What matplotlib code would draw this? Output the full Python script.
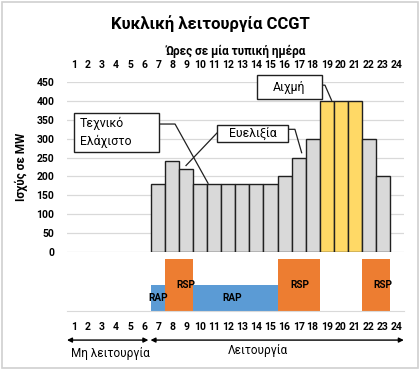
import matplotlib
matplotlib.use("Agg")
import matplotlib.pyplot as plt
from matplotlib.patches import Rectangle

plt.rcParams['font.family'] = ['Roboto', 'DejaVu Sans']

# --- data ---
hours = list(range(1, 25))
power_mw = [0, 0, 0, 0, 0, 0, 180, 240, 220, 180, 180, 180, 180, 180, 180,
            200, 250, 300, 400, 400, 400, 300, 200, 0]
peak_hours = [19, 20, 21]
rap = [0, 0, 0, 0, 0, 0, 1, 0, 0, 1, 1, 1, 1, 1, 1, 0, 0, 0, 0, 0, 0, 0, 0, 0]
rsp = [0, 0, 0, 0, 0, 0, 0, 2, 2, 0, 0, 0, 0, 0, 0, 2, 2, 2, 0, 0, 0, 2, 2, 0]
rap_label_hours = [7, 12.25]
rsp_label_hours = [9, 17.1, 23]
yticks = [0, 50, 100, 150, 200, 250, 300, 350, 400, 450]

GRAY = '#D9D9D9'
YELLOW = '#FFD966'
ORANGE = '#ED7D31'
BLUE = '#5B9BD5'
EDGE = '#202020'

fig = plt.figure(figsize=(4.2, 3.7), dpi=100)
fig.patches.append(Rectangle((0.005, 0.005), 0.99, 0.99, transform=fig.transFigure,
                             fill=False, edgecolor='#D0D0D0', lw=1.2))

fig.text(0.5, 0.935, 'Κυκλική λειτουργία CCGT', ha='center', va='center',
         fontsize=12, fontweight='bold')

# main power chart
ax = fig.add_axes([0.1595, 0.319, 0.802, 0.459])
for h, v in zip(hours, power_mw):
    if v <= 0:
        continue
    c = YELLOW if h in peak_hours else GRAY
    ax.bar(h, v, width=1.0, color=c, edgecolor=EDGE, linewidth=1.0, zorder=2)

ax.set_xlim(0.5, 24.5)
ax.set_ylim(0, 450)
ax.set_yticks(yticks)
ax.set_yticklabels([str(t) for t in yticks], fontsize=7.5, fontweight='bold')
ax.grid(axis='y', color=GRAY, lw=0.9, zorder=0)
ax.xaxis.tick_top()
ax.set_xticks(hours)
ax.set_xticklabels([str(h) for h in hours], fontsize=7.5, fontweight='bold')
ax.tick_params(length=0)
ax.tick_params(axis='x', pad=9)
ax.tick_params(axis='y', pad=9)
for s in ax.spines.values():
    s.set_visible(False)
ax.set_ylabel('Ισχύς σε MW', fontsize=8.5, fontweight='bold', labelpad=6)
ax.xaxis.set_label_position('top')
ax.set_xlabel('Ώρες σε μία τυπική ημέρα', fontsize=8.5, fontweight='bold', labelpad=3)

# callouts
def callout(x0, y0, x1, y1, text, tx, ty, ha):
    ax.add_patch(Rectangle((x0, y0), x1 - x0, y1 - y0, facecolor='white',
                           edgecolor=EDGE, lw=1.0, zorder=5, clip_on=False))
    ax.text(tx, ty, text, ha=ha, va='center', fontsize=8.8, zorder=6,
            linespacing=1.45)

callout(1.0, 265, 7.05, 368, 'Τεχνικό\nΕλάχιστο', 1.4, 316, 'left')
ax.plot([7.05, 8.2, 10.55], [339, 339, 182], color=EDGE, lw=0.9, zorder=4, clip_on=False)

callout(11.18, 291, 16.24, 336, 'Ευελιξία', 13.71, 313, 'center')
ax.plot([11.18, 8.98], [315, 229], color=EDGE, lw=0.9, zorder=4, clip_on=False)
ax.plot([16.24, 16.74, 17.22], [325, 325, 263], color=EDGE, lw=0.9, zorder=4, clip_on=False)

callout(14.03, 405, 18.66, 468, 'Αιχμή', 16.35, 437, 'center')
ax.plot([18.66, 18.88, 19.35], [442, 442, 402], color=EDGE, lw=0.9, zorder=4, clip_on=False)

# reserve bands
ax2 = fig.add_axes([0.1595, 0.1595, 0.802, 0.143])
ax2.bar(hours, rap, width=1.0, color=BLUE, linewidth=0, zorder=2)
ax2.bar(hours, rsp, width=1.0, color=ORANGE, linewidth=0, zorder=2)
for h in rap_label_hours:
    ax2.text(h, 0.5, 'RAP', ha='center', va='center', fontsize=7.2, fontweight='bold', zorder=3)
for h in rsp_label_hours:
    ax2.text(h, 1.0, 'RSP', ha='center', va='center', fontsize=7.2, fontweight='bold', zorder=3)
ax2.set_xlim(0.5, 24.5)
ax2.set_ylim(0, 2.05)
ax2.set_yticks([])
ax2.set_xticks(hours)
ax2.set_xticklabels([str(h) for h in hours], fontsize=7.5, fontweight='bold')
ax2.tick_params(length=0, pad=8)
for name, s in ax2.spines.items():
    s.set_visible(name == 'bottom')
ax2.spines['bottom'].set_color(GRAY)

# operation arrows
tr = ax2.get_xaxis_transform()
ax2.annotate('', xy=(0.5, -0.55), xytext=(6.3, -0.55), xycoords=tr, textcoords=tr,
             arrowprops=dict(arrowstyle='<|-|>', color='black', lw=1.0,
                             mutation_scale=7, shrinkA=0, shrinkB=0))
ax2.annotate('', xy=(6.45, -0.55), xytext=(24.5, -0.55), xycoords=tr, textcoords=tr,
             arrowprops=dict(arrowstyle='<|-|>', color='black', lw=1.0,
                             mutation_scale=7, shrinkA=0, shrinkB=0))
ax2.text(3.6, -0.8, 'Μη λειτουργία', transform=tr, ha='center', va='center', fontsize=8.5)
ax2.text(14.1, -0.75, 'Λειτουργία', transform=tr, ha='center', va='center', fontsize=8.5)

fig.savefig('out.png', dpi=100)
